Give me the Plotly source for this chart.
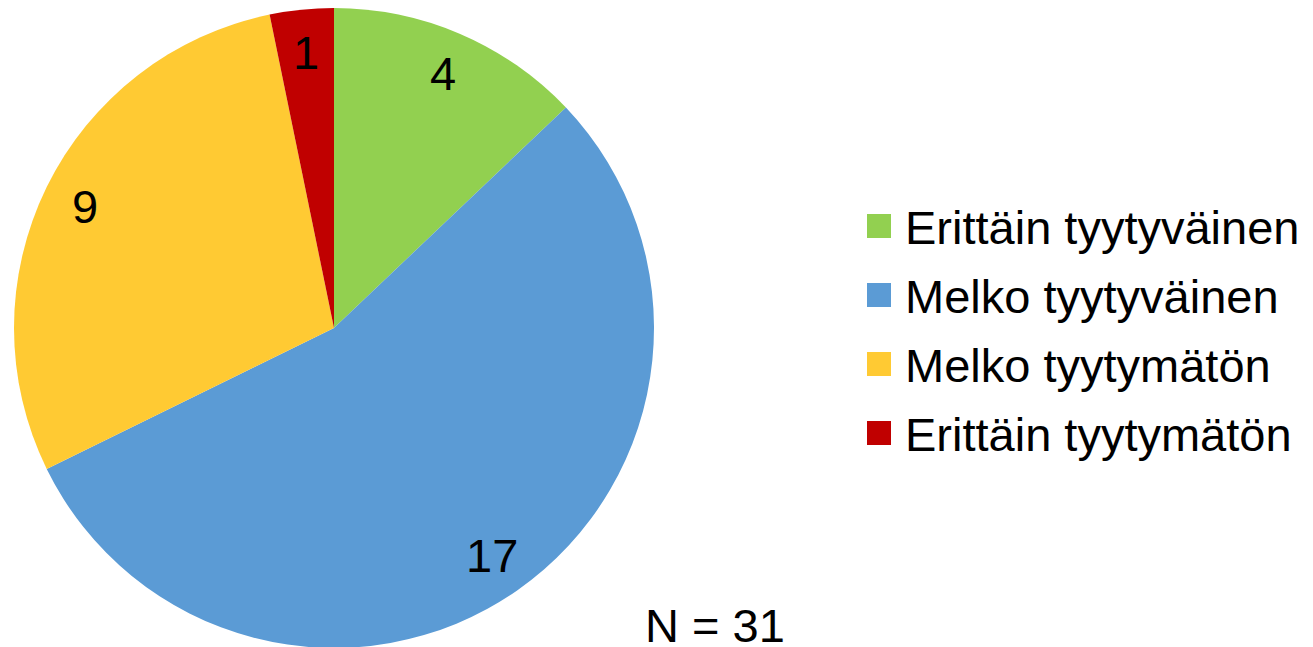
import math
import plotly.graph_objects as go

categories = ["Erittäin tyytyväinen", "Melko tyytyväinen", "Melko tyytymätön", "Erittäin tyytymätön"]
values = [4, 17, 9, 1]
colors = ["#92D050", "#5B9BD5", "#FFCA33", "#C00000"]
note = "N = 31"

W, H = 1313, 647
OFF = 8  # page body margin offset of the rendered figure
FONT = "Liberation Sans, Arial, sans-serif"
FS = 47

# pie geometry in screenshot pixels -> figure pixels
cx, cy, R = 334 - OFF, 328 - OFF, 320
dom_x = [(cx - R) / W, (cx + R) / W]
dom_y = [max(0, 1 - (cy + R) / H), min(1, 1 - (cy - R) / H)]


def px2x(x):
    return (x - OFF) / W


def px2y(y):
    return 1 - (y - OFF) / H


fig = go.Figure(go.Pie(
    labels=categories, values=values, sort=False, direction="clockwise", rotation=0,
    marker=dict(colors=colors, line=dict(color="white", width=0)),
    textinfo="none", hoverinfo="label+value", showlegend=False,
    domain=dict(x=dom_x, y=dom_y),
))

annotations = []
shapes = []
total = sum(values)
cum = 0
for v in values:
    mid = (cum + v / 2) / total * 2 * math.pi
    cum += v
    px = cx + 0.865 * R * math.sin(mid)
    py = cy - 0.865 * R * math.cos(mid)
    annotations.append(dict(x=px / W, y=1 - py / H, xref="paper", yref="paper",
                            text=str(v), showarrow=False, xanchor="center", yanchor="middle",
                            font=dict(family=FONT, size=FS, color="black")))

# custom legend
lx, ly0, dy, sq = 867, 226, 69, 24
for i, (c, col) in enumerate(zip(categories, colors)):
    yc = ly0 + dy * i
    shapes.append(dict(type="rect", xref="paper", yref="paper",
                       x0=px2x(lx), x1=px2x(lx + sq),
                       y0=px2y(yc + sq / 2), y1=px2y(yc - sq / 2),
                       fillcolor=col, line=dict(width=0)))
    annotations.append(dict(x=px2x(lx + 36), y=px2y(yc + 1), xref="paper", yref="paper",
                            text=c, showarrow=False, xanchor="left", yanchor="middle",
                            font=dict(family=FONT, size=FS, color="black")))

annotations.append(dict(x=px2x(715), y=px2y(625), xref="paper", yref="paper",
                        text=note, showarrow=False, xanchor="center", yanchor="middle",
                        font=dict(family=FONT, size=FS, color="black")))

fig.update_layout(
    width=W, height=H, margin=dict(l=0, r=0, t=0, b=0),
    paper_bgcolor="white", plot_bgcolor="white",
    annotations=annotations, shapes=shapes,
)

fig.write_html("out.html")
